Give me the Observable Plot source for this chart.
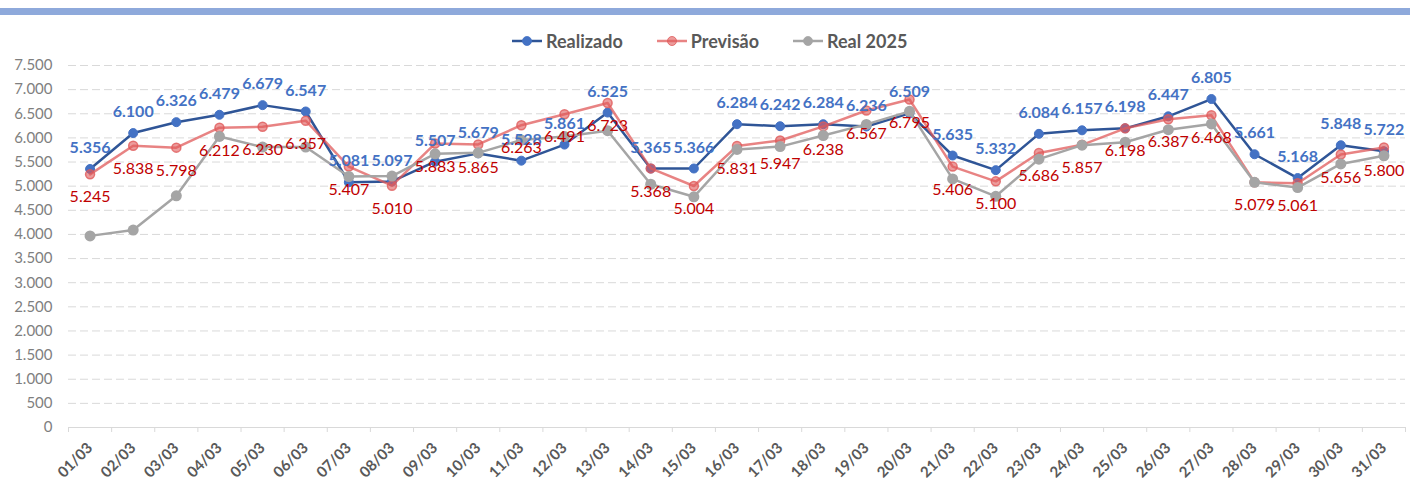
<!DOCTYPE html>
<html><head><meta charset="utf-8">
<script src="https://cdn.jsdelivr.net/npm/d3@7"></script>
<script src="https://cdn.jsdelivr.net/npm/@observablehq/plot@0.6"></script>
<style>
body{margin:0;background:#fff;width:1410px;height:492px;position:relative;overflow:hidden;font-family:Lato,"Open Sans",sans-serif;}
#chart{position:absolute;left:0;top:0;}
#bar{position:absolute;left:0;top:8px;width:1410px;height:7px;background:#8EA9DB;z-index:2}
#legend{position:absolute;left:511px;top:30px;height:22px;display:flex;align-items:center;z-index:2;font-weight:bold;font-size:18px;color:#595959;white-space:nowrap}
.item{display:flex;align-items:center;margin-right:33px}
.item svg{margin-right:3px}
</style></head><body>
<div id="chart"></div><div id="bar"></div><div id="legend"></div>
<script>
const days = ["01/03","02/03","03/03","04/03","05/03","06/03","07/03","08/03","09/03","10/03","11/03","12/03","13/03","14/03","15/03","16/03","17/03","18/03","19/03","20/03","21/03","22/03","23/03","24/03","25/03","26/03","27/03","28/03","29/03","30/03","31/03"];
const realizado = [5356,6100,6326,6479,6679,6547,5081,5097,5507,5679,5528,5861,6525,5365,5366,6284,6242,6284,6236,6509,5635,5332,6084,6157,6198,6447,6805,5661,5168,5848,5722];
const previsao = [5245,5838,5798,6212,6230,6357,5407,5010,5883,5865,6263,6491,6723,5368,5004,5831,5947,6238,6567,6795,5406,5100,5686,5857,6198,6387,6468,5079,5061,5656,5800];
const real2025 = [3970,4090,4800,6030,5810,5810,5200,5210,5670,5690,5955,6030,6150,5040,4780,5760,5820,6050,6280,6550,5150,4790,5560,5850,5910,6170,6290,5080,4970,5460,5630];
const yTicks = [0,500,1000,1500,2000,2500,3000,3500,4000,4500,5000,5500,6000,6500,7000,7500];
const seriesNames = ["Realizado","Previsão","Real 2025"];

const C = {
  blueLine:"#2F5597", blueDot:"#4472C4", blueText:"#4472C4",
  red:"#E05A5A", redText:"#C00000",
  gray:"#A5A5A5"
};
const loc = d3.formatLocale({decimal:",", thousands:".", grouping:[3], currency:["R$ ",""]});
const fmt = loc.format(",");
const rows = days.map((d,i)=>({i:i+1, day:d, real:realizado[i], prev:previsao[i], r25:real2025[i]}));
const edges = d3.range(0.5, days.length + 1, 1);

const plot = Plot.plot({
  width:1410, height:492,
  marginLeft:68, marginRight:5, marginTop:65, marginBottom:65,
  style:{fontFamily:"Lato, 'Open Sans', sans-serif", background:"transparent"},
  x:{type:"linear", domain:[0.5, days.length + 0.5], axis:null, label:null},
  y:{domain:[0,7500], axis:null, label:null},
  marks:[
    Plot.ruleY(yTicks.filter(v=>v>0), {stroke:"#D9D9D9", strokeWidth:1, strokeDasharray:"8,4"}),
    Plot.ruleY([0], {stroke:"#D9D9D9", strokeWidth:1}),
    Plot.axisX(edges, {tickSize:5, tickFormat:()=>"", color:"#D9D9D9", label:null}),
    Plot.axisX(rows.map(r=>r.i), {tickSize:0, tickPadding:18, tickRotate:-45, tickFormat:i=>days[i-1], fontSize:15, fontWeight:"bold", color:"#595959", label:null}),
    Plot.axisY(yTicks, {tickSize:0, tickPadding:16, tickFormat:fmt, fontSize:15, color:"#7F7F7F", label:null}),
    Plot.line(rows, {x:"i", y:"real", stroke:C.blueLine, strokeWidth:2.5}),
    Plot.dot(rows, {x:"i", y:"real", r:4.5, fill:C.blueDot, stroke:C.blueDot, strokeWidth:1}),
    Plot.line(rows, {x:"i", y:"prev", stroke:C.red, strokeOpacity:0.75, strokeWidth:2.5}),
    Plot.dot(rows, {x:"i", y:"prev", r:4.5, fill:C.red, fillOpacity:0.6, stroke:C.red, strokeOpacity:0.8, strokeWidth:1.5}),
    Plot.line(rows, {x:"i", y:"r25", stroke:C.gray, strokeWidth:2.5}),
    Plot.dot(rows, {x:"i", y:"r25", r:5.5, fill:C.gray}),
    Plot.text(rows, {x:"i", y:"real", text:d=>fmt(d.real), dy:-21, fill:C.blueText, fontWeight:"bold", fontSize:16}),
    Plot.text(rows, {x:"i", y:"prev", text:d=>fmt(d.prev), dy:23, fill:C.redText, fontSize:16})
  ]
});
document.getElementById("chart").appendChild(plot);

// Legend
const legendSpec = [
  {name:seriesNames[0], line:C.blueLine, lineOp:1, dot:C.blueDot, dotOp:1},
  {name:seriesNames[1], line:C.red, lineOp:0.75, dot:C.red, dotOp:0.6},
  {name:seriesNames[2], line:C.gray, lineOp:1, dot:C.gray, dotOp:1}
];
const lg = d3.select("#legend");
legendSpec.forEach(s=>{
  const it = lg.append("div").attr("class","item");
  const sv = it.append("svg").attr("width",32).attr("height",12);
  sv.append("line").attr("x1",1).attr("x2",31).attr("y1",6).attr("y2",6).attr("stroke",s.line).attr("stroke-opacity",s.lineOp).attr("stroke-width",2.5);
  sv.append("circle").attr("cx",16).attr("cy",6).attr("r",4.5).attr("fill",s.dot).attr("fill-opacity",s.dotOp).attr("stroke",s.dot).attr("stroke-opacity",0.8);
  it.append("span").text(s.name);
});
</script>
</body></html>
